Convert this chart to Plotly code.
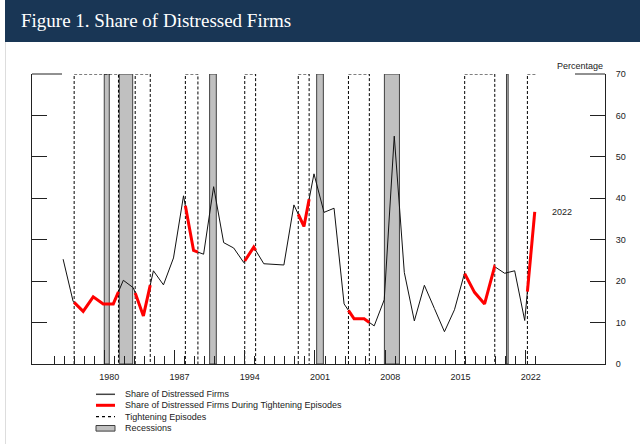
import numpy as np
import plotly.graph_objects as go

# ---------------- data ----------------
years = list(range(1975, 2023))
share = [25.3, 15.1, 12.7, 16.2, 14.5, 14.5, 20.2, 18.4, 11.6, 22.5,
         19.1, 25.6, 40.6, 27.4, 26.5, 42.8, 29.3, 28.0, 24.5, 28.2,
         24.2, 24.1, 23.9, 38.4, 33.2, 45.9, 36.6, 37.6, 14.5, 10.9,
         10.9, 9.2, 15.5, 55.0, 22.1, 10.4, 19.0, 13.4, 7.8, 13.1,
         21.9, 17.3, 14.5, 23.5, 21.9, 22.5, 10.5, 36.7]

recession_start = ["1980-01", "1981-07", "1990-07", "2001-03", "2007-12", "2020-02"]
recession_end = ["1980-07", "1982-11", "1991-03", "2001-11", "2009-06", "2020-04"]

tightening_start = ["1977-01", "1983-02", "1988-02", "1994-01", "1999-05",
                    "2004-05", "2015-12", "2022-03"]
tightening_end = ["1981-06", "1984-08", "1989-05", "1995-02", "2000-06",
                  "2006-06", "2018-12", None]  # last episode ongoing

tick_years = [1980, 1987, 1994, 2001, 2008, 2015, 2022]
y_ticks = [0, 10, 20, 30, 40, 50, 60, 70]

# ---------------- helpers ----------------
def dec(ym):
    y, m = ym.split("-")
    return int(y) + (int(m) - 1) / 12.0

x_data = np.array(years, dtype=float) + 0.9   # annual values plotted near year end
y_data = np.array(share, dtype=float)

X0, X1 = 1972.8, 2029.9
Y0, Y1 = 0, 70

# red segments: the series clipped to tightening episodes
red_x, red_y = [], []
for s, e in zip(tightening_start, tightening_end):
    a = dec(s)
    b = dec(e) if e else x_data[-1]
    a = max(a, x_data[0])
    b = min(b, x_data[-1])
    inside = (x_data > a) & (x_data < b)
    xs = [a] + list(x_data[inside]) + [b]
    ys = [float(np.interp(a, x_data, y_data))] + list(y_data[inside]) + [float(np.interp(b, x_data, y_data))]
    red_x += xs + [None]
    red_y += ys + [None]

FONT = "Liberation Sans, Arial, sans-serif"

fig = go.Figure()
fig.add_trace(go.Scatter(x=x_data, y=y_data, mode="lines",
                         line=dict(color="#111111", width=1),
                         name="Share of Distressed Firms", showlegend=False,
                         hoverinfo="skip"))
fig.add_trace(go.Scatter(x=red_x, y=red_y, mode="lines",
                         line=dict(color="#ff0000", width=3),
                         name="Share of Distressed Firms During Tightening Episodes",
                         showlegend=False, hoverinfo="skip", connectgaps=False))

shapes = []
# recessions
for s, e in zip(recession_start, recession_end):
    shapes.append(dict(type="rect", xref="x", yref="y", x0=dec(s), x1=dec(e), y0=Y0, y1=Y1,
                       fillcolor="#c0c0c0", line=dict(color="#404040", width=1), layer="below"))
# tightening episodes (dashed boxes, open on right when ongoing)
for s, e in zip(tightening_start, tightening_end):
    a = dec(s)
    if e:
        b = dec(e)
        path = f"M {a},{Y0} L {a},{Y1} L {b},{Y1} L {b},{Y0}"
    else:
        b = x_data[-1] + 0.25
        path = f"M {a},{Y0} L {a},{Y1} L {b},{Y1}"
    shapes.append(dict(type="path", xref="x", yref="y", path=path,
                       line=dict(color="#000000", width=1, dash="3px,2px"), layer="below"))

# plot geometry in pixels
L, R, T, B, W, H = 32, 35, 74, 80, 640, 444
pw, ph = W - L - R, H - T - B
def px(xp):
    return (xp - L) / pw
def py(yp):
    return (H - B - yp) / ph

# partial top frame
shapes.append(dict(type="line", xref="paper", yref="paper", x0=0, x1=px(62), y0=1, y1=1,
                   line=dict(color="#222222", width=1)))
shapes.append(dict(type="line", xref="paper", yref="paper", x0=px(575), x1=1, y0=1, y1=1,
                   line=dict(color="#222222", width=1)))
# header band
shapes.append(dict(type="rect", xref="paper", yref="paper", x0=px(5), x1=px(641),
                   y0=py(42), y1=py(0), fillcolor="#193655", line=dict(width=0)))
shapes.append(dict(type="line", xref="paper", yref="paper", x0=px(5.5), x1=px(5.5),
                   y0=py(42), y1=py(444), line=dict(color="#dddddd", width=1)))

annotations = []
annotations.append(dict(xref="paper", yref="paper", x=px(19), y=py(21), xanchor="left",
                        yanchor="middle", showarrow=False,
                        text="Figure 1. Share of Distressed Firms",
                        font=dict(family="Liberation Serif, serif", size=19, color="#ffffff")))
annotations.append(dict(xref="paper", yref="paper", x=1, y=py(66.5), xanchor="right",
                        yanchor="middle", showarrow=False, text="Percentage",
                        font=dict(family=FONT, size=9, color="#222222")))
annotations.append(dict(xref="x", yref="y", x=x_data[-1] + 1.5, y=y_data[-1], xanchor="left",
                        yanchor="middle", showarrow=False, text=str(years[-1]),
                        font=dict(family=FONT, size=9, color="#222222")))

# custom legend
leg_items = [
    ("line", "Share of Distressed Firms", 394.3),
    ("red", "Share of Distressed Firms During Tightening Episodes", 405.3),
    ("dash", "Tightening Episodes", 416.6),
    ("rect", "Recessions", 428.3),
]
for kind, label, yy in leg_items:
    if kind == "line":
        shapes.append(dict(type="line", xref="paper", yref="paper", x0=px(96), x1=px(115),
                           y0=py(yy), y1=py(yy), line=dict(color="#444444", width=1.5)))
    elif kind == "red":
        shapes.append(dict(type="line", xref="paper", yref="paper", x0=px(96), x1=px(115),
                           y0=py(yy), y1=py(yy), line=dict(color="#ff0000", width=3)))
    elif kind == "dash":
        shapes.append(dict(type="line", xref="paper", yref="paper", x0=px(96), x1=px(115),
                           y0=py(yy), y1=py(yy), line=dict(color="#000000", width=1.2, dash="3px,3px")))
    else:
        shapes.append(dict(type="rect", xref="paper", yref="paper", x0=px(96), x1=px(115),
                           y0=py(yy + 2.8), y1=py(yy - 2.8), fillcolor="#c0c0c0",
                           line=dict(color="#404040", width=1)))
    annotations.append(dict(xref="paper", yref="paper", x=px(123), y=py(yy), xanchor="left",
                            yanchor="middle", showarrow=False, text=label,
                            font=dict(family=FONT, size=9, color="#222222")))

fig.update_layout(
    width=W, height=H,
    margin=dict(l=L, r=R, t=T, b=B, pad=0),
    paper_bgcolor="#ffffff", plot_bgcolor="#ffffff",
    showlegend=False,
    shapes=shapes, annotations=annotations,
    xaxis=dict(range=[X0, X1], showgrid=False, zeroline=False,
               showline=True, linecolor="#222222", linewidth=1,
               tickmode="array", tickvals=tick_years, ticktext=[str(t) for t in tick_years],
               ticks="inside", ticklen=14, tickwidth=1, tickcolor="#222222",
               ticklabelshift=5, ticklabelstandoff=4,
               minor=dict(tickmode="array", tickvals=list(range(1975, 2024)),
                          ticks="inside", ticklen=8, tickwidth=1, tickcolor="#222222"),
               tickfont=dict(family=FONT, size=9, color="#222222"), fixedrange=True),
    yaxis=dict(range=[Y0, Y1], side="right", showgrid=False, zeroline=False,
               showline=True, linecolor="#222222", linewidth=1, mirror="ticks",
               tickmode="array", tickvals=y_ticks,
               ticks="inside", ticklen=15, tickwidth=1, tickcolor="#222222",
               ticklabelstandoff=8,
               tickfont=dict(family=FONT, size=9, color="#222222"), fixedrange=True),
)

fig.write_html("out.html", config={"displayModeBar": False},
               post_script="document.body.style.margin='0';document.body.style.overflow='hidden';")
